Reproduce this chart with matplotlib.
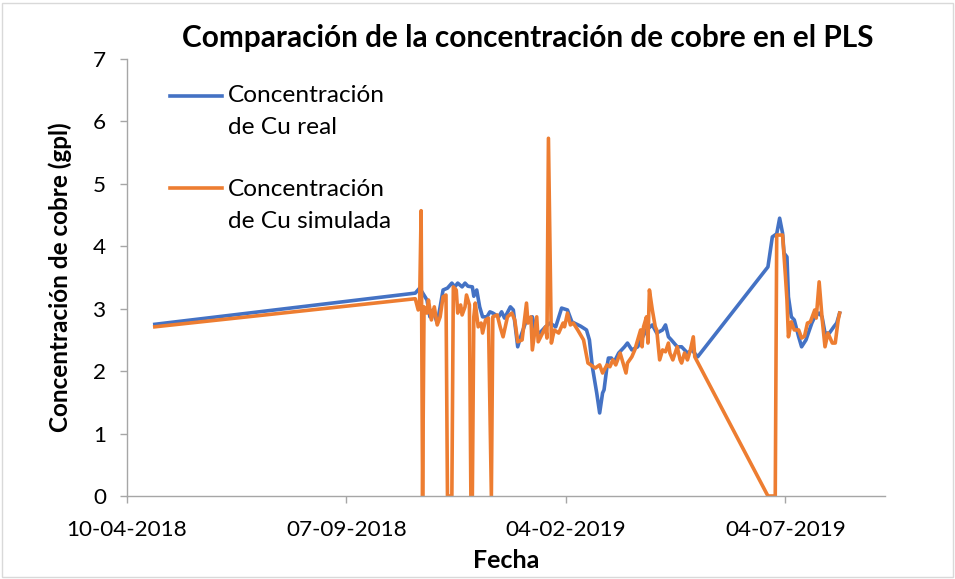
import matplotlib
matplotlib.use("Agg")
import matplotlib.pyplot as plt
import matplotlib.dates as mdates
from matplotlib.lines import Line2D
from matplotlib.patches import Rectangle
import pandas as pd

plt.rcParams['font.family'] = ['Lato', 'DejaVu Sans']

dates_real = ["2018-04-29", "2018-10-24", "2018-10-27", "2018-11-01", "2018-11-03", "2018-11-05",
              "2018-11-08", "2018-11-10", "2018-11-12", "2018-11-15", "2018-11-18", "2018-11-20",
              "2018-11-22", "2018-11-25", "2018-11-27", "2018-11-29", "2018-12-02", "2018-12-03",
              "2018-12-05", "2018-12-07", "2018-12-09", "2018-12-12", "2018-12-14", "2018-12-16",
              "2018-12-20", "2018-12-22", "2018-12-24", "2018-12-28", "2018-12-30", "2019-01-02",
              "2019-01-04", "2019-01-08", "2019-01-12", "2019-01-14", "2019-01-17", "2019-01-21",
              "2019-01-24", "2019-01-28", "2019-02-01", "2019-02-05", "2019-02-08", "2019-02-14",
              "2019-02-18", "2019-02-20", "2019-02-22", "2019-02-25", "2019-02-27", "2019-03-01",
              "2019-03-02", "2019-03-04", "2019-03-05", "2019-03-07", "2019-03-09", "2019-03-12",
              "2019-03-14", "2019-03-16", "2019-03-18", "2019-03-21", "2019-03-25", "2019-03-28",
              "2019-03-31", "2019-04-04", "2019-04-07", "2019-04-11", "2019-04-13", "2019-04-15",
              "2019-04-17", "2019-04-21", "2019-04-24", "2019-04-28", "2019-05-01", "2019-05-05",
              "2019-06-22", "2019-06-25", "2019-06-28", "2019-06-30", "2019-07-02", "2019-07-03",
              "2019-07-05", "2019-07-06", "2019-07-08", "2019-07-10", "2019-07-13", "2019-07-15",
              "2019-07-18", "2019-07-22", "2019-07-24", "2019-07-27", "2019-07-29", "2019-07-31",
              "2019-08-03", "2019-08-06", "2019-08-08", "2019-08-10"]
cu_real = [2.75, 3.25, 3.33, 3.14, 2.87, 2.98,
           2.77, 3.03, 3.30, 3.33, 3.41, 3.35,
           3.41, 3.35, 3.41, 3.36, 3.35, 3.20,
           3.30, 3.03, 2.87, 2.87, 2.95, 2.93,
           2.87, 2.95, 2.85, 3.03, 2.98, 2.39,
           2.55, 2.82, 2.87, 2.66, 2.61, 2.71,
           2.77, 2.71, 3.01, 2.98, 2.79, 2.72,
           2.66, 2.50, 2.07, 1.65, 1.33, 1.65,
           1.70, 2.07, 2.21, 2.21, 2.15, 2.29,
           2.34, 2.39, 2.45, 2.34, 2.39, 2.53,
           2.66, 2.74, 2.61, 2.66, 2.74, 2.55,
           2.50, 2.39, 2.39, 2.29, 2.34, 2.23,
           3.67, 4.15, 4.20, 4.45, 4.21, 3.89,
           3.83, 3.19, 2.87, 2.82, 2.55, 2.39,
           2.50, 2.77, 2.87, 2.93, 2.87, 2.61,
           2.61, 2.71, 2.77, 2.93]

dates_sim = ["2018-04-29", "2018-10-24", "2018-10-26", "2018-10-27", "2018-10-28", "2018-10-29",
             "2018-10-30", "2018-11-01", "2018-11-02", "2018-11-04", "2018-11-06", "2018-11-08",
             "2018-11-10", "2018-11-12", "2018-11-14", "2018-11-15", "2018-11-18", "2018-11-19",
             "2018-11-21", "2018-11-22", "2018-11-24", "2018-11-25", "2018-11-27", "2018-11-28",
             "2018-11-30", "2018-12-01", "2018-12-02", "2018-12-03", "2018-12-04", "2018-12-06",
             "2018-12-08", "2018-12-09", "2018-12-11", "2018-12-13", "2018-12-15", "2018-12-16",
             "2018-12-19", "2018-12-21", "2018-12-23", "2018-12-26", "2018-12-29", "2018-12-31",
             "2019-01-02", "2019-01-05", "2019-01-08", "2019-01-09", "2019-01-11", "2019-01-12",
             "2019-01-15", "2019-01-16", "2019-01-19", "2019-01-21", "2019-01-22", "2019-01-23",
             "2019-01-25", "2019-01-27", "2019-01-30", "2019-02-02", "2019-02-03", "2019-02-05",
             "2019-02-07", "2019-02-09", "2019-02-12", "2019-02-16", "2019-02-19", "2019-02-24",
             "2019-02-27", "2019-03-01", "2019-03-04", "2019-03-06", "2019-03-08", "2019-03-10",
             "2019-03-13", "2019-03-15", "2019-03-17", "2019-03-18", "2019-03-21", "2019-03-23",
             "2019-03-25", "2019-03-27", "2019-03-28", "2019-03-29", "2019-03-31", "2019-04-01",
             "2019-04-02", "2019-04-04", "2019-04-06", "2019-04-07", "2019-04-09", "2019-04-11",
             "2019-04-13", "2019-04-15", "2019-04-16", "2019-04-18", "2019-04-21", "2019-04-23",
             "2019-04-24", "2019-04-26", "2019-04-28", "2019-04-30", "2019-05-02", "2019-05-03",
             "2019-06-22", "2019-06-27", "2019-06-28", "2019-07-02", "2019-07-04", "2019-07-05",
             "2019-07-06", "2019-07-08", "2019-07-10", "2019-07-13", "2019-07-15", "2019-07-17",
             "2019-07-19", "2019-07-21", "2019-07-24", "2019-07-25", "2019-07-27", "2019-07-29",
             "2019-07-31", "2019-08-02", "2019-08-05", "2019-08-07", "2019-08-09", "2019-08-10"]
cu_sim = [2.71, 3.16, 2.98, 3.14, 4.57, 0.00,
          3.03, 2.93, 3.14, 2.82, 3.03, 2.74,
          2.87, 3.19, 3.22, 0.00, 0.00, 3.35,
          3.30, 2.93, 3.06, 2.90, 3.03, 3.22,
          3.06, 0.00, 0.00, 2.87, 3.09, 2.71,
          2.77, 2.61, 2.82, 2.85, 0.00, 2.87,
          2.90, 2.71, 2.55, 2.87, 2.93, 2.82,
          2.47, 2.50, 3.09, 2.77, 2.87, 2.34,
          2.87, 2.47, 2.61, 2.71, 2.53, 5.73,
          2.45, 2.66, 2.61, 2.77, 2.71, 2.93,
          2.74, 2.77, 2.66, 2.50, 2.13, 2.05,
          2.10, 1.97, 2.10, 2.07, 2.18, 2.10,
          2.29, 2.13, 1.97, 2.13, 2.23, 2.34,
          2.50, 2.66, 2.39, 2.71, 2.87, 2.45,
          3.30, 2.98, 2.71, 2.66, 2.18, 2.34,
          2.31, 2.45, 2.29, 2.18, 2.39, 2.18,
          2.13, 2.29, 2.18, 2.34, 2.55, 2.23,
          0.00, 0.00, 4.18, 4.18, 3.51, 3.14,
          2.55, 2.79, 2.66, 2.66, 2.53, 2.56,
          2.77, 2.79, 2.98, 2.85, 3.43, 2.85,
          2.39, 2.61, 2.45, 2.45, 2.82, 2.93]

x_ticks = ["2018-04-10", "2018-09-07", "2019-02-04", "2019-07-04"]
x_max = "2019-09-10"

title = "Comparación de la concentración de cobre en el PLS"
xlabel = "Fecha"
ylabel = "Concentración de cobre (gpl)"
label_real = ["Concentración", "de Cu real"]
label_sim = ["Concentración", "de Cu simulada"]

blue = "#4472C4"
orange = "#ED7D31"
grey = "#A6A6A6"

fig = plt.figure(figsize=(9.55, 5.79), dpi=100)
ax = fig.add_axes([127/955, 1-496/579, (885-127)/955, (496-59)/579])

ax.plot(pd.to_datetime(dates_real), cu_real, color=blue, lw=2.6, solid_joinstyle='round')
ax.plot(pd.to_datetime(dates_sim), cu_sim, color=orange, lw=2.6, solid_joinstyle='round')

ax.set_xlim(pd.Timestamp(x_ticks[0]), pd.Timestamp(x_max))
ax.set_ylim(0, 7)
ax.set_xticks(pd.to_datetime(x_ticks))
ax.xaxis.set_major_formatter(mdates.DateFormatter("%d-%m-%Y"))
ax.set_yticks(range(0, 8))

for s in ["top", "right"]:
    ax.spines[s].set_visible(False)
for s in ["left", "bottom"]:
    ax.spines[s].set_color(grey)
    ax.spines[s].set_linewidth(1.0)
ax.tick_params(axis='both', colors=grey, length=5, width=1.0, labelcolor='black', labelsize=16.2)
ax.tick_params(axis='x', pad=12)
ax.tick_params(axis='y', pad=10)

ax.set_title(title, fontsize=21.4, fontweight='bold', pad=8.5, x=0.529)
ax.set_xlabel(xlabel, fontsize=18, fontweight='bold', labelpad=7)
ax.set_ylabel(ylabel, fontsize=17.5, fontweight='bold', labelpad=15)

# legend (manual)
def legend_entry(y_line, y_text1, color, lines):
    fig.add_artist(Line2D([170/955, 222/955], [1-y_line/579, 1-y_line/579], color=color, lw=2.6))
    fig.text(228/955, 1-y_text1/579, lines[0], fontsize=17.6, va='center', ha='left')
    fig.text(228/955, 1-(y_text1+32)/579, lines[1], fontsize=17.6, va='center', ha='left')

legend_entry(96, 96, blue, label_real)
legend_entry(188, 190, orange, label_sim)

fig.add_artist(Rectangle((2/955, 2/579), 951/955, 574/579, transform=fig.transFigure,
                         fill=False, edgecolor='#D9D9D9', lw=1))

fig.savefig("out.png", dpi=100)
